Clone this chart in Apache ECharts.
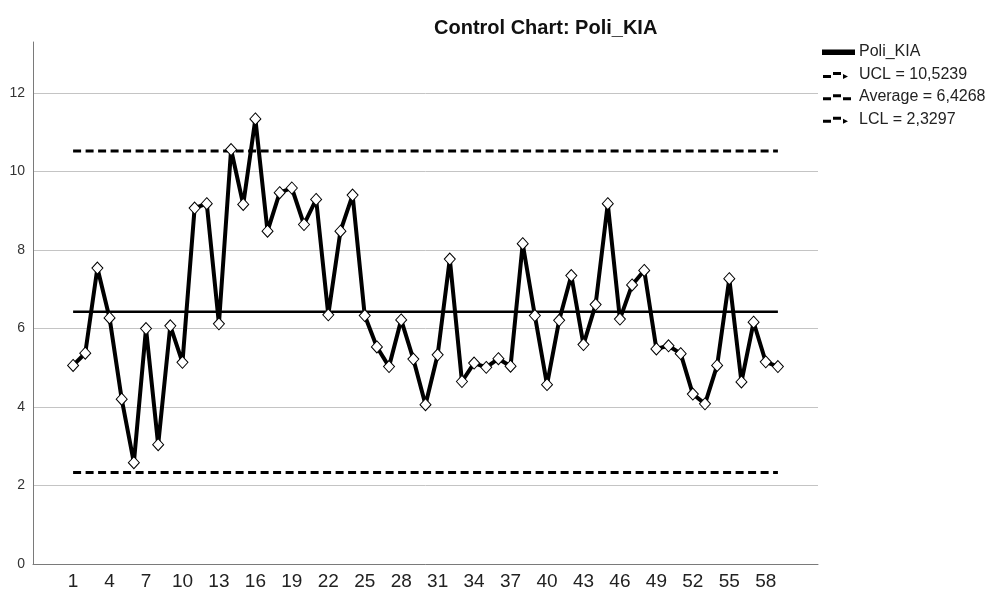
<!DOCTYPE html>
<html>
<head>
<meta charset="utf-8">
<script src="https://cdn.jsdelivr.net/npm/echarts@6/dist/echarts.min.js"></script>
<style>html,body{margin:0;padding:0;background:#fff;}#c{width:992px;height:597px;}</style>
</head>
<body>
<div id="c"></div>
<script>
const categories = [1,2,3,4,5,6,7,8,9,10,11,12,13,14,15,16,17,18,19,20,21,22,23,24,25,26,27,28,29,30,31,32,33,34,35,36,37,38,39,40,41,42,43,44,45,46,47,48,49,50,51,52,53,54,55,56,57,58,59];
const values = [5.06,5.37,7.54,6.27,4.20,2.58,6.00,3.04,6.07,5.14,
                9.07,9.18,6.12,10.56,9.16,11.34,8.48,9.46,9.58,8.65,
                9.29,6.35,8.48,9.40,6.33,5.53,5.03,6.22,5.22,4.06,
                5.33,7.77,4.65,5.12,5.01,5.23,5.04,8.16,6.33,4.57,
                6.21,7.35,5.59,6.61,9.18,6.24,7.11,7.48,5.48,5.56,
                5.36,4.33,4.08,5.06,7.27,4.64,6.16,5.15,5.03];
const xTickLabels = [1,4,7,10,13,16,19,22,25,28,31,34,37,40,43,46,49,52,55,58];
const yTickLabels = [0,2,4,6,8,10,12];
const UCL = 10.5239, AVG = 6.4268, LCL = 2.3297;
const seriesNames = ['Poli_KIA', 'UCL = 10,5239', 'Average = 6,4268', 'LCL = 2,3297'];

const first = categories[0], last = categories[categories.length - 1];
const mainData = categories.map((c, i) => [c, values[i]]);
const limitLine = v => [[first, v], [last, v]];

// legend icon shapes (moveTo-only corners fix the icon box to 31x14)
const box = 'M0,0 M31,14 ';
const iconSolid = 'path://' + box + 'M0,5.5H31V9H0Z';
const iconLimit = 'path://' + box + 'M0,7.5H8V10.5H0Z M10,4.5H18V7.5H10Z M20,6.5L25,9L20,11.5Z';
const iconAvg = 'path://' + box + 'M0,7.5H8V10.5H0Z M10,4.5H18V7.5H10Z M20,7.5H28V10.5H20Z';

const font = 'Liberation Sans, Arial, sans-serif';
const chart = echarts.init(document.getElementById('c'), null, {renderer: 'canvas'});
chart.setOption({
  animation: false,
  backgroundColor: '#fff',
  textStyle: {fontFamily: font},
  title: {
    text: 'Control Chart: Poli_KIA',
    left: 429, top: 13,
    textStyle: {fontSize: 20, fontWeight: 'bold', color: '#111', fontFamily: font}
  },
  legend: {
    orient: 'vertical', left: 822, top: 44, padding: 0,
    itemWidth: 31, itemHeight: 14, itemGap: 6.4,
    selectedMode: false,
    textStyle: {fontSize: 16, color: '#222', fontFamily: font},
    data: [
      {name: seriesNames[0], icon: iconSolid, itemStyle: {color: '#000'}},
      {name: seriesNames[1], icon: iconLimit, itemStyle: {color: '#000'}},
      {name: seriesNames[2], icon: iconAvg, itemStyle: {color: '#000'}},
      {name: seriesNames[3], icon: iconLimit, itemStyle: {color: '#000'}}
    ]
  },
  grid: {left: 33, right: 174, top: 42, bottom: 33, containLabel: false},
  xAxis: {
    type: 'value', min: -2.3, max: 62.3,
    axisLine: {show: true, onZero: false, lineStyle: {color: '#7a7a7a', width: 1}},
    axisTick: {show: false},
    splitLine: {show: false},
    axisLabel: {customValues: xTickLabels, fontSize: 19, color: '#222', margin: 8}
  },
  yAxis: {
    type: 'value', min: 0, max: 13.3, interval: 2,
    axisLine: {show: true, onZero: false, lineStyle: {color: '#7a7a7a', width: 1}},
    axisTick: {show: false, customValues: yTickLabels},
    splitLine: {show: true, lineStyle: {color: '#c4c4c4', width: 1}},
    axisLabel: {customValues: yTickLabels, fontSize: 14, color: '#333', margin: 8}
  },
  series: [
    {
      name: seriesNames[0], type: 'line', data: mainData, z: 4,
      lineStyle: {color: '#000', width: 4},
      symbol: 'diamond', symbolSize: [11, 12],
      itemStyle: {color: '#fff', borderColor: '#000', borderWidth: 1},
      emphasis: {disabled: true}
    },
    {
      name: seriesNames[1], type: 'line', data: limitLine(UCL), symbol: 'none', z: 2,
      lineStyle: {color: '#000', width: 3, type: [8, 4.5]}, itemStyle: {color: '#000'}
    },
    {
      name: seriesNames[2], type: 'line', data: limitLine(AVG), symbol: 'none', z: 3,
      lineStyle: {color: '#000', width: 2.5}, itemStyle: {color: '#000'}
    },
    {
      name: seriesNames[3], type: 'line', data: limitLine(LCL), symbol: 'none', z: 2,
      lineStyle: {color: '#000', width: 3, type: [8, 4.5]}, itemStyle: {color: '#000'}
    }
  ]
});
</script>
</body>
</html>
